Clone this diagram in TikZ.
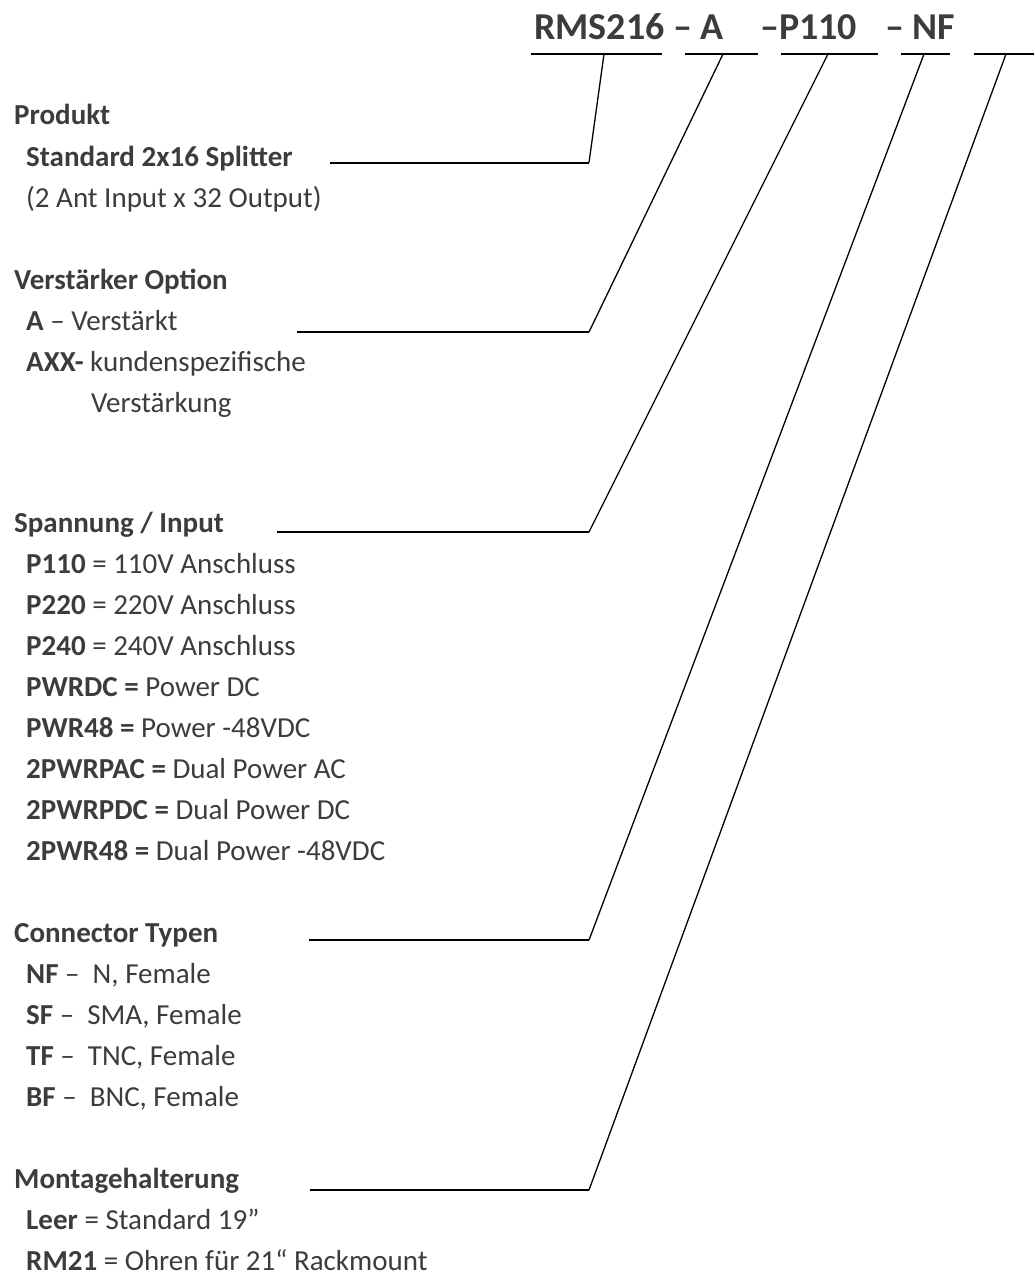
\documentclass[tikz,border=0pt]{standalone}
\usepackage{fontspec}
\setmainfont{Carlito}
\definecolor{txt}{HTML}{3C3C3C}
\begin{document}
\begin{tikzpicture}[x=1pt,y=-1pt,
  lbl/.style={anchor=base west,inner sep=0pt,text=txt,font=\fontsize{29}{35}\selectfont},
  head/.style={lbl,font=\fontsize{29}{35}\selectfont\bfseries},
  hdr/.style={anchor=base west,inner sep=0pt,text=txt,font=\fontsize{38}{46}\selectfont\bfseries},
  uline/.style={line width=2pt},
  lead/.style={line width=1.3pt}]
\useasboundingbox (0,0) rectangle (1034,1277);

% header
\node[hdr] (h1) at (534,39) {RMS216 – A};
\node[hdr] (h2) at (760,39) {–P110};
\node[hdr] (h3) at (885,39) {– NF};

% underlines
\coordinate (u1a) at (531,54); \coordinate (u1b) at (662,54);
\coordinate (u2a) at (685,54); \coordinate (u2b) at (758,54);
\coordinate (u3a) at (781,54); \coordinate (u3b) at (878,54);
\coordinate (u4a) at (901,54); \coordinate (u4b) at (950,54);
\coordinate (u5a) at (974,54); \coordinate (u5b) at (1034,54);
\foreach \i in {1,...,5} \draw[uline] (u\i a) -- (u\i b);

% lead start points on underlines
\coordinate (d1) at (604,54);
\coordinate (d2) at (723,54);
\coordinate (d3) at (828,54);
\coordinate (d4) at (924,54);
\coordinate (d5) at (1006,54);

% junctions and left ends
\coordinate (j1) at (589,162.5); \coordinate (l1) at (330,162.5);
\coordinate (j2) at (589,332);   \coordinate (l2) at (297,332);
\coordinate (j3) at (589,532);   \coordinate (l3) at (277,532);
\coordinate (j4) at (589,940);   \coordinate (l4) at (309,940);
\coordinate (j5) at (589,1190);  \coordinate (l5) at (310,1190);

\foreach \i in {1,...,5} {
  \draw[lead] (d\i) -- (j\i);
  \draw[uline] (j\i) -- (l\i);
}

% Produkt
\node[head] (prod) at (14,124) {Produkt};
\node[head] (prod1) at (26,166) {Standard 2x16 Splitter};
\node[lbl] (prod2) at (26,207) {(2 Ant Input x 32 Output)};

% Verstaerker
\node[head] (amp) at (14,289) {Verstärker Option};
\node[lbl] (amp1) at (26,330) {\textbf{A} – Verstärkt};
\node[lbl] (amp2) at (26,371) {\textbf{AXX-} kundenspezifische};
\node[lbl] (amp3) at (91,412) {Verstärkung};

% Spannung
\node[head] (pwr) at (14,532) {Spannung / Input};
\node[lbl] (pwr1) at (26,573) {\textbf{P110} = 110V Anschluss};
\node[lbl] (pwr2) at (26,614) {\textbf{P220} = 220V Anschluss};
\node[lbl] (pwr3) at (26,655) {\textbf{P240} = 240V Anschluss};
\node[lbl] (pwr4) at (26,696) {\textbf{PWRDC =} Power DC};
\node[lbl] (pwr5) at (26,737) {\textbf{PWR48 =} Power -48VDC};
\node[lbl] (pwr6) at (26,778) {\textbf{2PWRPAC =} Dual Power AC};
\node[lbl] (pwr7) at (26,819) {\textbf{2PWRPDC =} Dual Power DC};
\node[lbl] (pwr8) at (26,860) {\textbf{2PWR48 =} Dual Power -48VDC};

% Connector
\node[head] (con) at (14,942) {Connector Typen};
\node[lbl] (con1) at (26,983) {\textbf{NF} –\ \ N, Female};
\node[lbl] (con2) at (26,1024) {\textbf{SF} –\ \ SMA, Female};
\node[lbl] (con3) at (26,1065) {\textbf{TF} –\ \ TNC, Female};
\node[lbl] (con4) at (26,1106) {\textbf{BF} –\ \ BNC, Female};

% Montage
\node[head] (mnt) at (14,1188) {Montagehalterung};
\node[lbl] (mnt1) at (26,1229) {\textbf{Leer} = Standard 19”};
\node[lbl] (mnt2) at (26,1270) {\textbf{RM21} = Ohren für 21“ Rackmount};
\end{tikzpicture}
\end{document}
